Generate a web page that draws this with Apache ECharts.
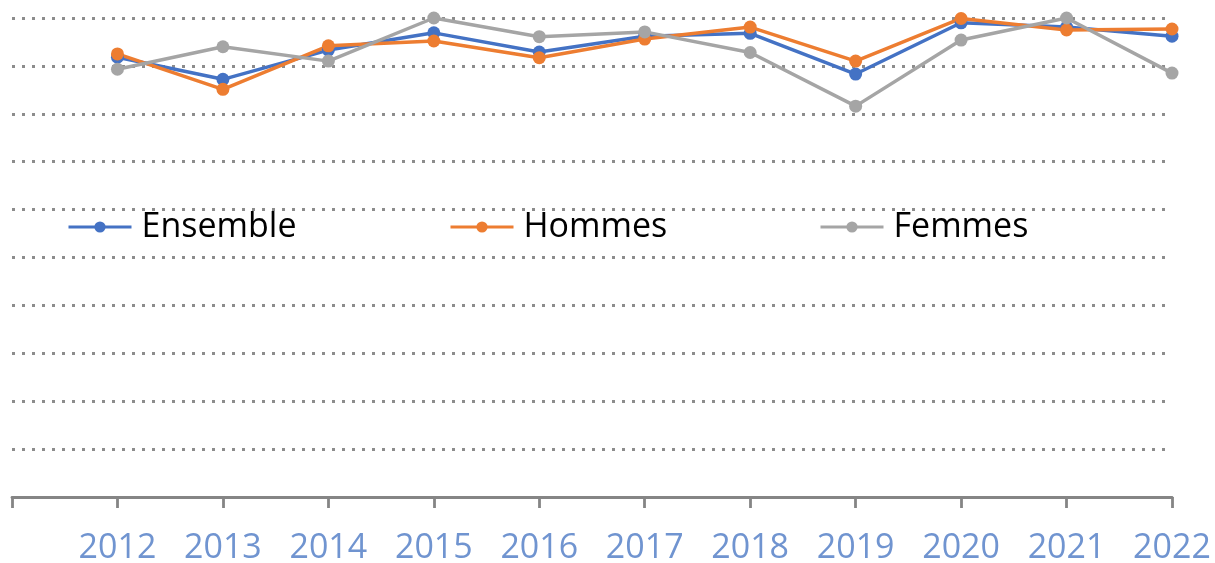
<!DOCTYPE html>
<html>
<head>
<meta charset="utf-8">
<script src="https://cdn.jsdelivr.net/npm/echarts@6/dist/echarts.min.js"></script>
<style>
html,body{margin:0;padding:0;background:#fff;}
#chart{width:1215px;height:563px;}
</style>
</head>
<body>
<div id="chart"></div>
<script>
var years = [2012, 2013, 2014, 2015, 2016, 2017, 2018, 2019, 2020, 2021, 2022];
var ensemble = [91.8, 87.2, 93.3, 96.9, 92.9, 96.2, 96.8, 88.3, 99.0, 98.1, 96.2];
var hommes   = [92.5, 85.1, 94.2, 95.2, 91.7, 95.6, 98.1, 91.0, 99.9, 97.5, 97.7];
var femmes   = [89.3, 94.0, 91.0, 100.0, 96.1, 97.1, 92.8, 81.6, 95.4, 100.0, 88.5];
var seriesNames = ['Ensemble', 'Hommes', 'Femmes'];
var colors = ['#4472C4', '#ED7D31', '#A5A5A5'];

function pairs(vals) {
  return years.map(function (y, i) { return [y, vals[i]]; });
}
function mkSeries(name, vals, color) {
  return {
    name: name, type: 'line', data: pairs(vals),
    symbol: 'circle', symbolSize: 13,
    lineStyle: { color: color, width: 3.5 },
    itemStyle: { color: color },
    emphasis: { disabled: true },
    animation: false
  };
}
function mkLegend(name, left) {
  return {
    data: [name], left: left, top: 210, padding: 0,
    itemWidth: 63, itemHeight: 14,
    lineStyle: { width: 3 },
    textStyle: { fontFamily: 'Open Sans', fontSize: 34, color: '#000', lineHeight: 34, padding: [0, 0, 0, 5] },
    selectedMode: false
  };
}
var chart = echarts.init(document.getElementById('chart'), null, { renderer: 'canvas' });
chart.setOption({
  animation: false,
  grid: { left: 12, right: 43, top: 18, bottom: 66, outerBoundsMode: 'none', containLabel: false },
  legend: [mkLegend(seriesNames[0], 67), mkLegend(seriesNames[1], 449), mkLegend(seriesNames[2], 819)],
  xAxis: {
    type: 'value', min: years[0] - 1, max: years[years.length - 1], interval: 1,
    axisLine: { show: true, lineStyle: { color: '#858585', width: 2.8 } },
    axisTick: { show: true, length: 11, lineStyle: { color: '#858585', width: 2.8 } },
    splitLine: { show: false },
    axisLabel: {
      margin: 34, fontFamily: 'Open Sans', fontSize: 34, lineHeight: 34, color: '#7094D0',
      formatter: function (v) { return v < years[0] ? '' : String(v); }
    }
  },
  yAxis: {
    type: 'value', min: 0, max: 100, interval: 10,
    axisLine: { show: false }, axisTick: { show: false }, axisLabel: { show: false },
    splitLine: { show: true, lineStyle: { color: '#8C8C8C', width: 3, type: [3, 7] } }
  },
  series: [
    mkSeries(seriesNames[0], ensemble, colors[0]),
    mkSeries(seriesNames[1], hommes, colors[1]),
    mkSeries(seriesNames[2], femmes, colors[2])
  ]
});
</script>
</body>
</html>
